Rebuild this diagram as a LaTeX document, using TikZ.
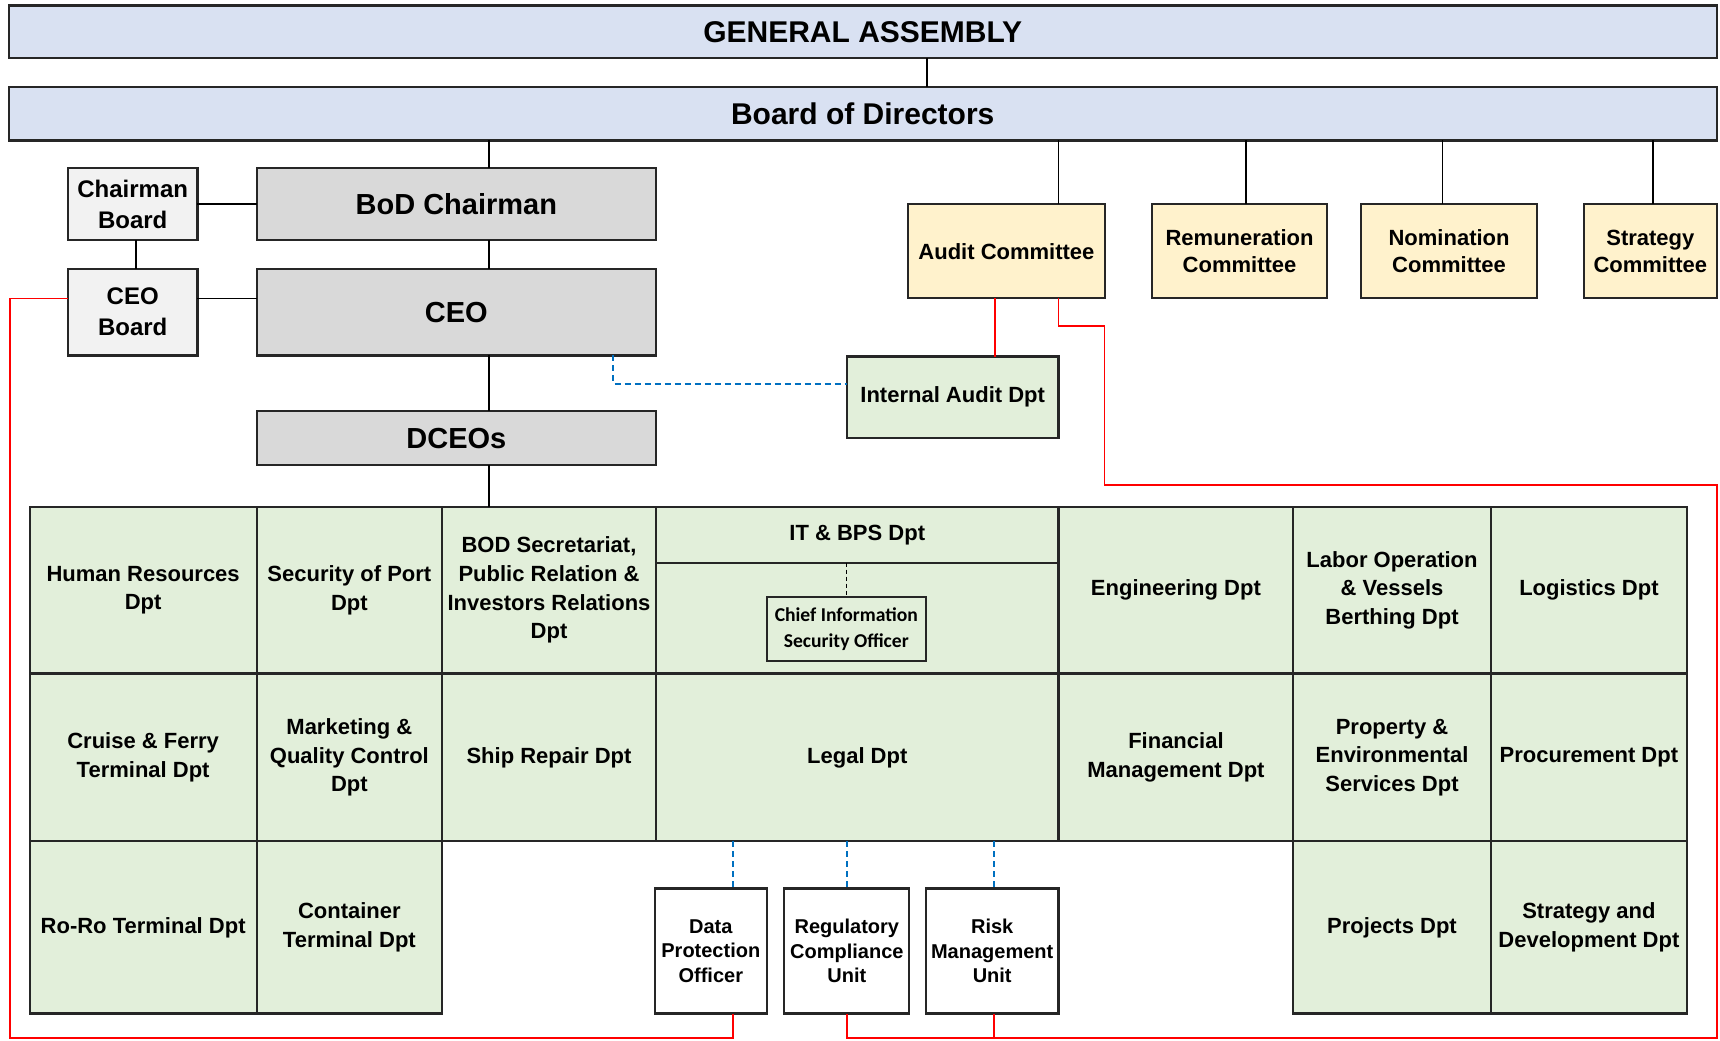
\documentclass[tikz,border=0pt]{standalone}
\usepackage{fontspec}
\setmainfont{Liberation Sans}
\newfontfamily\cisofont{Carlito}
\usetikzlibrary{positioning}
\definecolor{boardblue}{HTML}{D9E1F2}
\definecolor{execgrey}{HTML}{D9D9D9}
\definecolor{sidegrey}{HTML}{F2F2F2}
\definecolor{cmtyellow}{HTML}{FFF2CC}
\definecolor{dptgreen}{HTML}{E2EFDA}
\definecolor{linkblue}{HTML}{0070C0}
\definecolor{auditred}{HTML}{FF0000}
\newcommand{\px}{0.5485pt}
\newcommand{\orgfont}[2]{\bfseries\fontsize{#1}{#2}\selectfont}

\begin{document}
\begin{tikzpicture}[x=\px, y=-\px]
  \tikzset{orgbox/.style={draw=black!85, line width=1.1pt, outer sep=0pt, inner sep=1pt, align=center},
    boxsize/.style 2 args={minimum width=#1*\px, minimum height=#2*\px},
    board/.style={orgbox, fill=boardblue, font=\orgfont{15}{18}},
    exec/.style={orgbox, fill=execgrey, font=\orgfont{14.5}{17}},
    side/.style={orgbox, fill=sidegrey, font=\orgfont{12}{15.4}},
    cmty/.style={orgbox, fill=cmtyellow, font=\orgfont{11}{13.7}},
    dpt/.style={orgbox, fill=dptgreen, font=\orgfont{11}{14.3}},
    unitbox/.style={orgbox, fill=white, font=\orgfont{10}{12.3}},
    link/.style={line width=0.85pt},
    redline/.style={auditred, line width=0.85pt},
    dotlink/.style={linkblue, line width=0.85pt, dash pattern=on 3pt off 2pt},
    cisolink/.style={line width=0.8pt, dash pattern=on 2pt off 1.5pt}}
  \useasboundingbox (0,0) rectangle (1568,949);

  \node[board, boxsize={1557}{48}] (ga) at (786.5,29) {GENERAL ASSEMBLY};
  \node[board, boxsize={1557}{49}] (bod) at (786.5,103.5) {Board of Directors};

  \node[side, boxsize={118}{66}] (chairbrd) at (121,186) {Chairman\\Board};
  \node[exec, boxsize={364}{66}] (bodchair) at (416,186) {BoD Chairman};
  \node[side, boxsize={118}{79}] (ceobrd) at (121,284.5) {CEO\\Board};
  \node[exec, boxsize={364}{79}] (ceo) at (416,284.5) {CEO};
  \node[exec, boxsize={364}{49}] (dceo) at (416,399.5) {DCEOs};

  \node[cmty, boxsize={179}{86}] (audit) at (917.5,229) {Audit Committee};
  \node[cmty, boxsize={160}{86}] (remun) at (1130,229) {Remuneration\\Committee};
  \node[cmty, boxsize={160}{86}] (nomin) at (1321,229) {Nomination\\Committee};
  \node[cmty, boxsize={121}{86}] (stratcmt) at (1504.5,229) {Strategy\\Committee};
  \node[dpt, boxsize={193}{74}] (intaudit) at (868.5,362) {Internal Audit Dpt};

  % departments, row by row
  \node[dpt, boxsize={207}{152}] (hr) at (130.5,538) {Human Resources\\Dpt};
  \node[dpt, boxsize={169}{152}, right=0pt of hr] (secport) {Security of Port\\Dpt};
  \node[dpt, boxsize={195}{152}, right=0pt of secport] (secr) {BOD Secretariat,\\Public Relation \&\\Investors Relations\\Dpt};
  \node[dpt, boxsize={367}{152}, right=0pt of secr] (itbps) {};
  \node[dpt, boxsize={214}{152}, right=0pt of itbps] (eng) {Engineering Dpt};
  \node[dpt, boxsize={180}{152}, right=0pt of eng] (labor) {Labor Operation\\\& Vessels\\Berthing Dpt};
  \node[dpt, boxsize={179}{152}, right=0pt of labor] (logist) {Logistics Dpt};
  \node[dpt, boxsize={367}{51}, anchor=north] (ithead) at (itbps.north) {IT \& BPS Dpt};
  \node[orgbox, boxsize={145}{58}, font=\cisofont\bfseries\fontsize{9.8}{13}\selectfont] (ciso) at (771.5,573.5) {Chief Information\\Security Officer};

  \node[dpt, boxsize={207}{153}, below=0pt of hr] (cruise) {Cruise \& Ferry\\Terminal Dpt};
  \node[dpt, boxsize={169}{153}, right=0pt of cruise] (mqc) {Marketing \&\\Quality Control\\Dpt};
  \node[dpt, boxsize={195}{153}, right=0pt of mqc] (shiprep) {Ship Repair Dpt};
  \node[dpt, boxsize={367}{153}, right=0pt of shiprep] (legal) {Legal Dpt};
  \node[dpt, boxsize={214}{153}, right=0pt of legal] (finance) {Financial\\Management Dpt};
  \node[dpt, boxsize={180}{153}, right=0pt of finance] (property) {Property \&\\Environmental\\Services Dpt};
  \node[dpt, boxsize={179}{153}, right=0pt of property] (procure) {Procurement Dpt};

  \node[dpt, boxsize={207}{157}, below=0pt of cruise] (roro) {Ro-Ro Terminal Dpt};
  \node[dpt, boxsize={169}{157}, right=0pt of roro] (container) {Container\\Terminal Dpt};
  \node[dpt, boxsize={180}{157}, below=0pt of property] (projects) {Projects Dpt};
  \node[dpt, boxsize={179}{157}, right=0pt of projects] (stratdev) {Strategy and\\Development Dpt};

  \node[unitbox, boxsize={102}{114}] (dpo) at (648,867) {Data\\Protection\\Officer};
  \node[unitbox, boxsize={114}{114}] (regcomp) at (772,867) {Regulatory\\Compliance\\Unit};
  \node[unitbox, boxsize={121}{114}] (risk) at (904.5,867) {Risk\\Management\\Unit};

  \draw[link] (ga.south -| 845,0) -- (bod.north -| 845,0);
  \draw[link] (bod.south -| 446,0) -- (bodchair.north -| 446,0);
  \draw[link] (bodchair.south -| 446,0) -- (ceo.north -| 446,0);
  \draw[link] (ceo.south -| 446,0) -- (dceo.north -| 446,0);
  \draw[link] (dceo.south -| 446,0) -- (secr.north -| 446,0);
  \draw[link] (chairbrd.east) -- (bodchair.west);
  \draw[link] (ceobrd.east |- 0,272) -- (ceo.west |- 0,272);
  \draw[link] (chairbrd.south -| 124,0) -- (ceobrd.north -| 124,0);
  \foreach \nd/\tx in {audit/965, remun/1136, nomin/1315, stratcmt/1507}
    \draw[link] (bod.south -| \tx,0) -- (\nd.north -| \tx,0);

  \draw[dotlink] (ceo.south -| 559,0) |- (intaudit.west |- 0,350);
  \foreach \nd/\tx in {dpo/668, regcomp/772, risk/906}
    \draw[dotlink] (legal.south -| \tx,0) -- (\nd.north -| \tx,0);
  \draw[cisolink] (ithead.south -| ciso.north) -- (ciso.north);

  \draw[redline] (audit.south -| 907,0) -- (intaudit.north -| 907,0);
  \draw[redline] (ceobrd.west |- 0,272) -| (9,946) -| (dpo.south -| 668,0);
  \draw[redline] (audit.south -| 965,0) |- (1007,297) |- (1565,442) |- (906,946) coordinate (tee) -- (risk.south -| tee);
  \draw[redline] (tee) -| (regcomp.south);
\end{tikzpicture}
\end{document}
